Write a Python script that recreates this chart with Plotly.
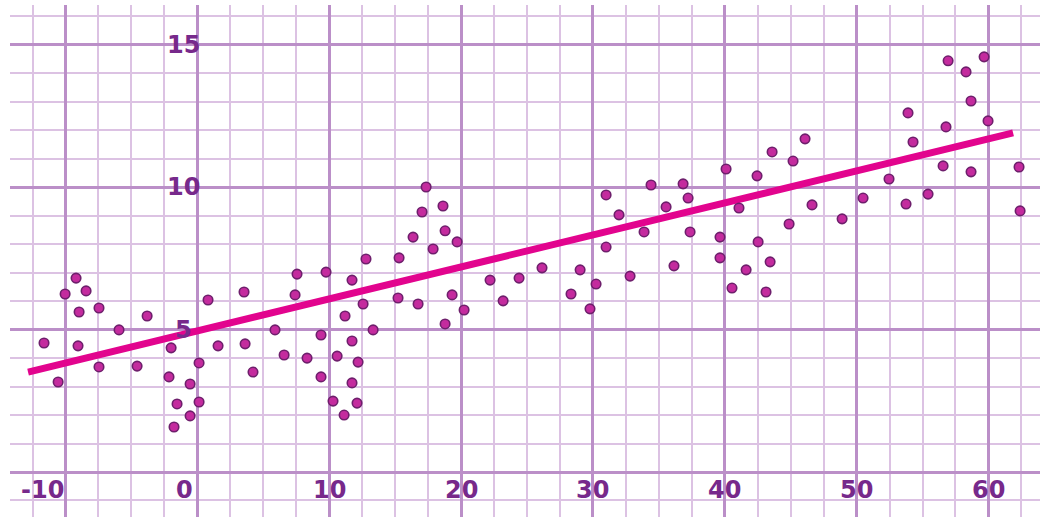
import plotly.graph_objects as go

# Scatter data
x_vals = [-11.63, -10.56, -10.03, -9.20, -8.97, -9.05, -8.44, -7.46, -7.46, -5.94,
          -4.57, -3.81, -1.99, -2.15, -1.54, -1.77, -0.55, -0.55, 0.13, 0.13,
          0.81, 1.57, 3.54, 3.62, 4.22, 5.89, 6.58, 7.41, 7.56, 8.32,
          9.38, 9.38, 9.76, 10.29, 10.60, 11.13, 11.20, 11.73, 11.73, 11.73,
          12.11, 12.19, 12.57, 12.79, 13.33, 15.22, 15.30, 16.36, 16.74, 17.04,
          17.35, 17.88, 18.63, 18.79, 18.79, 19.32, 19.70, 20.23, 22.20, 23.19,
          24.40, 26.14, 28.34, 29.03, 29.78, 30.24, 31.00, 31.00, 31.98, 32.82,
          33.88, 34.41, 35.55, 36.15, 36.84, 37.22, 37.37, 39.64, 39.64, 40.10,
          40.55, 41.08, 41.62, 42.45, 42.53, 43.13, 43.44, 43.59, 44.88, 45.18,
          46.09, 46.62, 48.90, 50.49, 52.46, 53.75, 53.90, 54.28, 55.42, 56.56,
          56.78, 56.94, 58.30, 58.68, 58.68, 59.67, 59.97, 62.32, 62.40]
y_vals = [4.53, 3.16, 6.25, 6.81, 5.62, 4.43, 6.36, 5.76, 3.69, 4.99,
          3.72, 5.48, 4.36, 3.34, 2.39, 1.58, 3.09, 1.97, 3.83, 2.46,
          6.04, 4.43, 6.32, 4.50, 3.51, 4.99, 4.11, 6.22, 6.95, 4.00,
          4.81, 3.34, 7.02, 2.49, 4.07, 2.00, 5.48, 6.74, 4.60, 3.13,
          2.42, 3.86, 5.90, 7.48, 4.99, 6.11, 7.52, 8.25, 5.90, 9.13,
          10.01, 7.83, 9.34, 8.47, 5.20, 6.22, 8.08, 5.69, 6.74, 6.01,
          6.81, 7.17, 6.25, 7.10, 5.73, 6.60, 9.73, 7.90, 9.03, 6.88,
          8.43, 10.08, 9.31, 7.24, 10.12, 9.62, 8.43, 8.25, 7.52, 10.64,
          6.46, 9.27, 7.10, 10.40, 8.08, 6.32, 7.38, 11.24, 8.71, 10.92,
          11.70, 9.38, 8.89, 9.62, 10.29, 9.41, 12.61, 11.59, 9.76, 10.75,
          12.12, 14.44, 14.05, 13.03, 10.54, 14.58, 12.33, 10.71, 9.17]

# Trend line end points
fit_x = [-12.84, 61.87]
fit_y = [3.51, 11.91]

# Tick labels
x_tick_vals = [-10, 0, 10, 20, 30, 40, 50, 60]
x_tick_text = ["-10", "0", "10", "20", "30", "40", "50", "60"]
y_tick_vals = [15, 10, 5]
y_tick_text = ["15", "10", "5"]

W, H = 1042, 517
label_color = "#77298b"
label_font = dict(family="DejaVu Sans, Liberation Sans, sans-serif", size=24,
                  color=label_color)

fig = go.Figure()

fig.add_trace(go.Scatter(
    x=fit_x, y=fit_y, mode="lines",
    line=dict(color="#e2048e", width=7),
    hoverinfo="skip", showlegend=False,
))
fig.add_trace(go.Scatter(
    x=x_vals, y=y_vals, mode="markers",
    marker=dict(size=9.5, color="#c42b9e", line=dict(color="#6e1f6c", width=1.6)),
    showlegend=False,
))

annotations = []
x_shift = {-10: -23, 0: -13}
for v, t in zip(x_tick_vals, x_tick_text):
    annotations.append(dict(
        x=v, y=-0.63, xref="x", yref="y", text="<b>" + t + "</b>", showarrow=False,
        xanchor="center", yanchor="middle", xshift=x_shift.get(v, 0),
        font=label_font,
    ))
for v, t in zip(y_tick_vals, y_tick_text):
    annotations.append(dict(
        x=0, y=v, xref="x", yref="y", text="<b>" + t + "</b>", showarrow=False,
        xanchor="center", yanchor="middle", xshift=-14,
        font=label_font,
    ))

major_col = "#bb8fc8"
minor_col = "#dcc2e3"

fig.update_layout(
    width=W, height=H,
    margin=dict(l=0, r=0, t=0, b=0),
    paper_bgcolor="white", plot_bgcolor="white",
    annotations=annotations,
    xaxis=dict(
        domain=[10 / W, 1040 / W],
        range=[-14.21, 63.91],
        tick0=0, dtick=10,
        showgrid=True, gridcolor=major_col, gridwidth=3,
        minor=dict(tick0=0, dtick=2.5, showgrid=True, gridcolor=minor_col, gridwidth=2),
        zeroline=False, showticklabels=False, showline=False, ticks="",
    ),
    yaxis=dict(
        domain=[0, 512 / H],
        range=[-1.58, 16.40],
        tick0=0, dtick=5,
        showgrid=True, gridcolor=major_col, gridwidth=3,
        minor=dict(tick0=0, dtick=1, showgrid=True, gridcolor=minor_col, gridwidth=2),
        zeroline=False, showticklabels=False, showline=False, ticks="",
    ),
)

fig.write_html(
    "out.html",
    config={"displayModeBar": False},
    post_script="document.body.style.margin='0';document.body.style.overflow='hidden';",
)
